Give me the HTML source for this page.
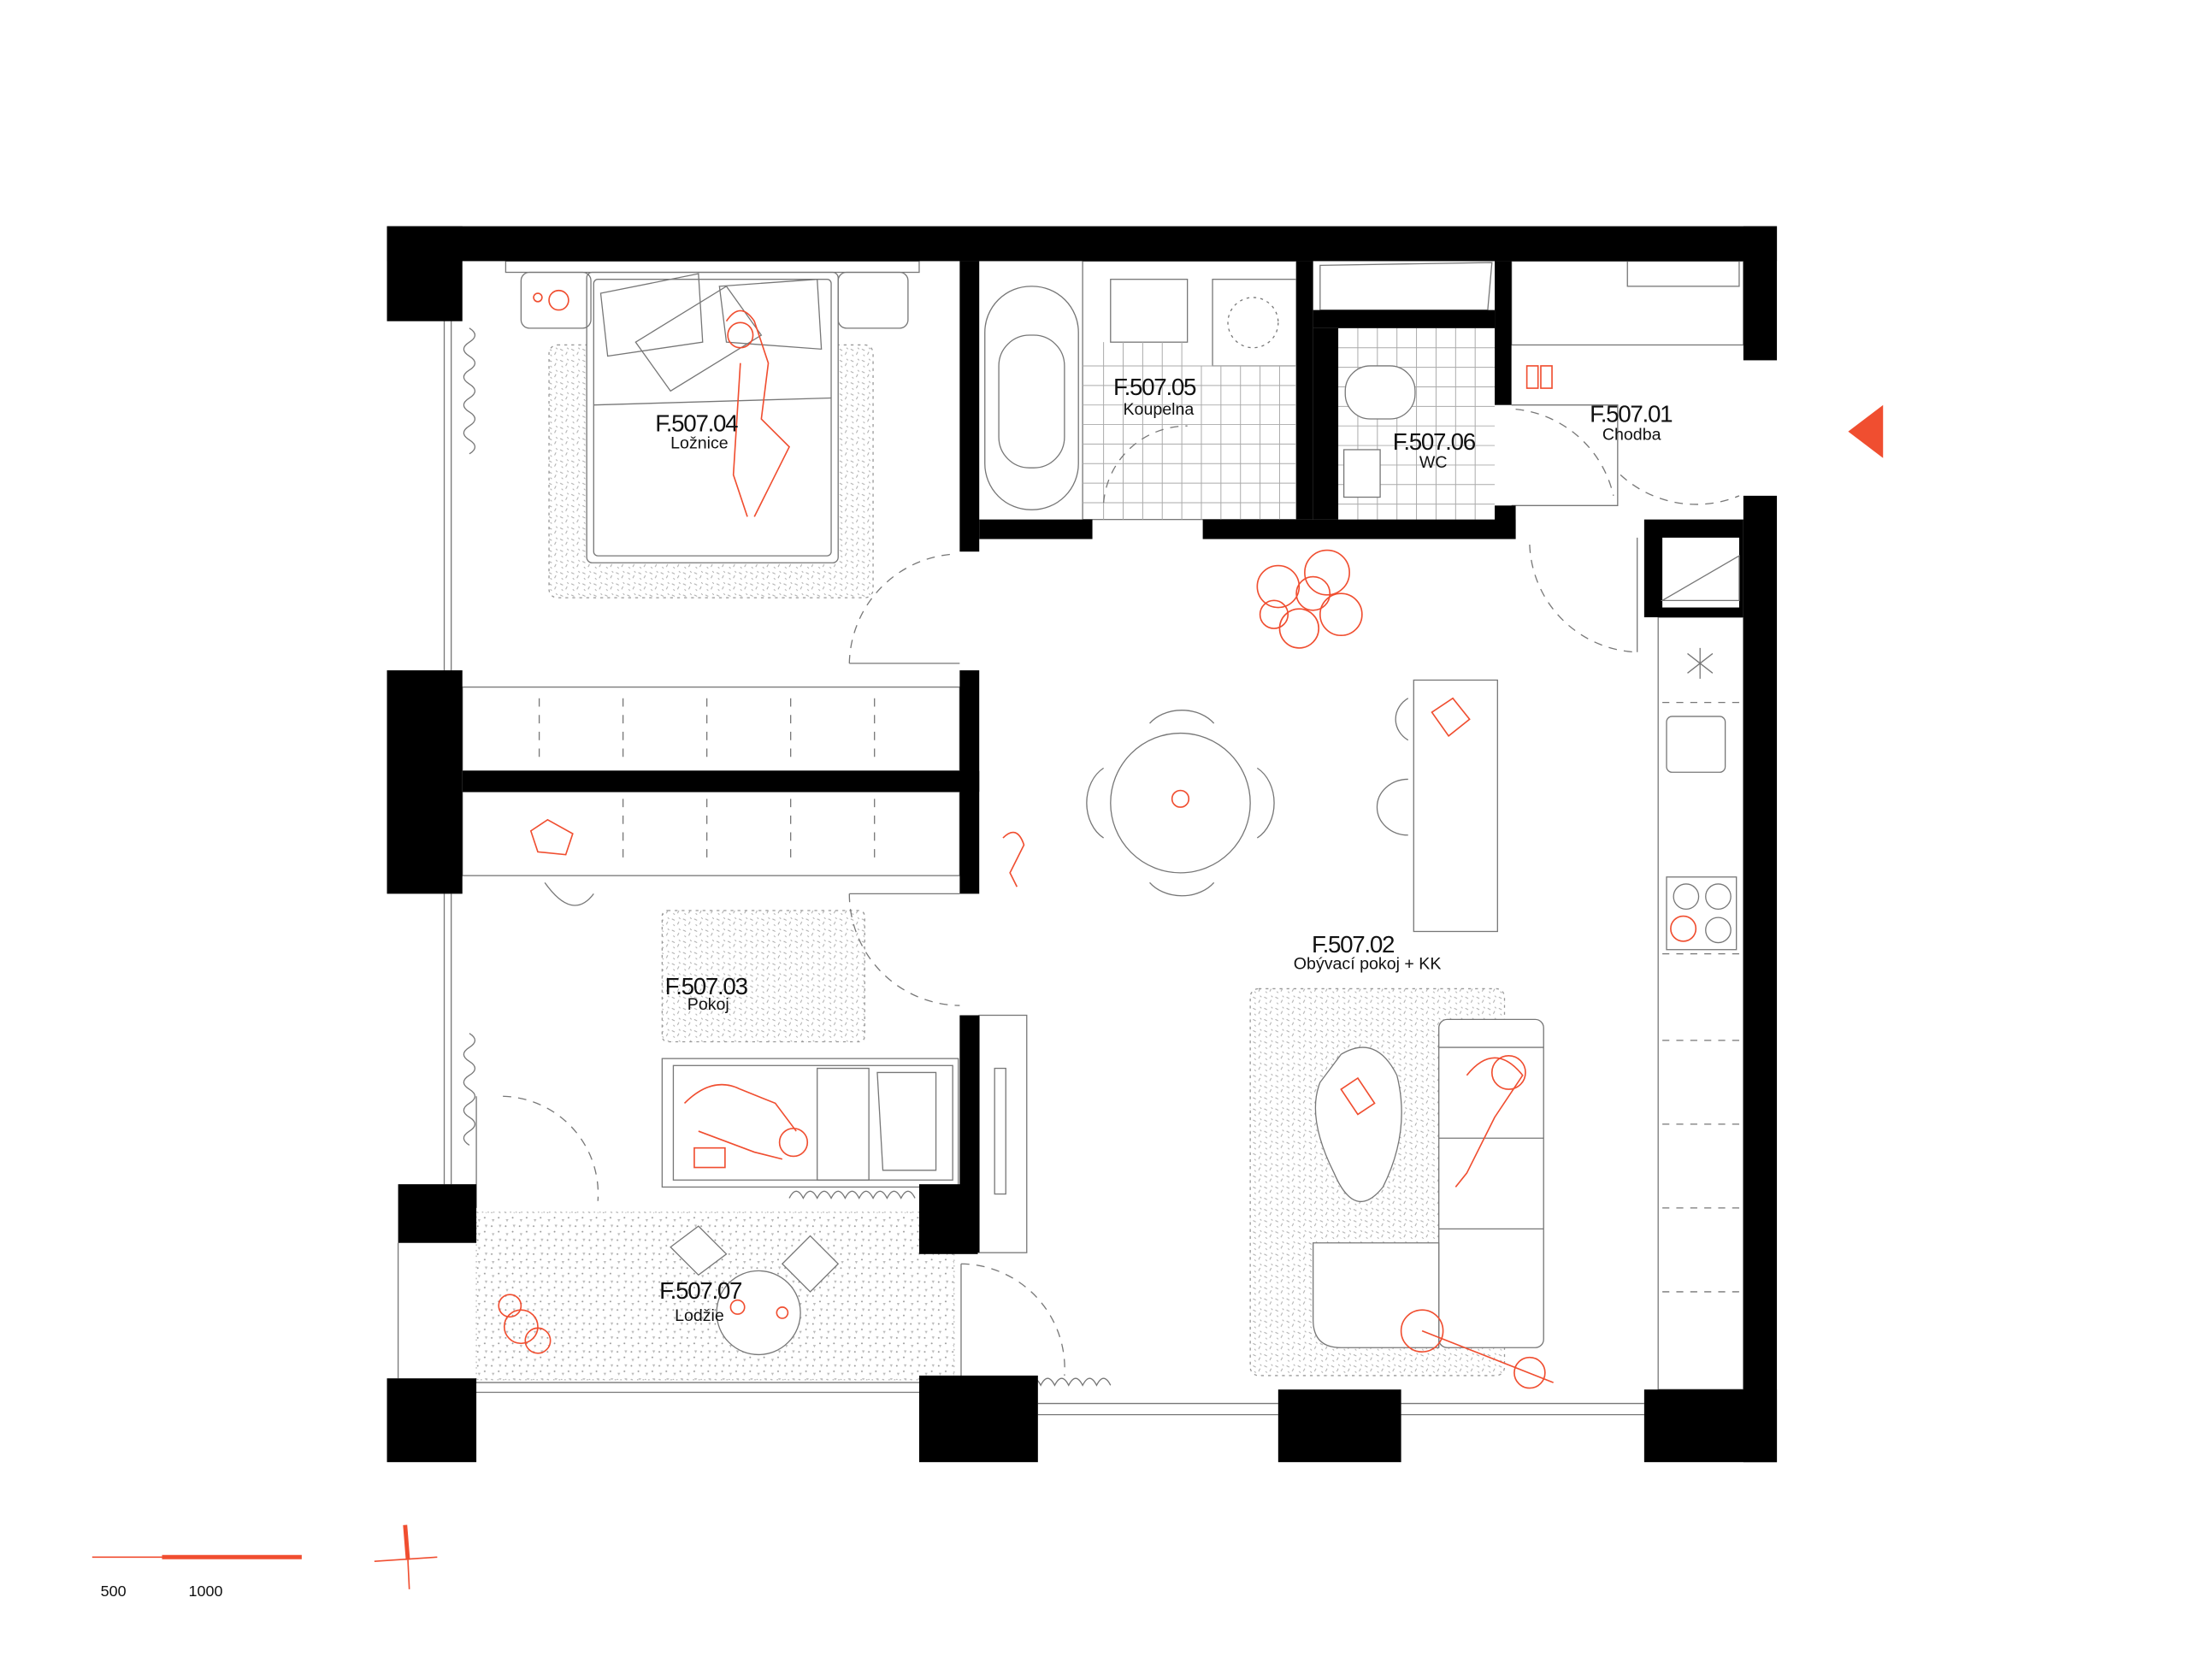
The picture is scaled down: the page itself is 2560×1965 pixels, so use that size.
<!DOCTYPE html>
<html><head><meta charset="utf-8"><style>
html,body{margin:0;padding:0;background:#fff;}
svg{display:block;}
text{font-family:"Liberation Sans",sans-serif;fill:#111;}
</style></head><body>
<svg width="2560" height="1965" viewBox="0 0 1567 1203" preserveAspectRatio="none" xmlns="http://www.w3.org/2000/svg">
<defs>
<pattern id="st" width="8" height="8" patternUnits="userSpaceOnUse"><rect width="8" height="8" fill="#fff"/><path d="M1 2l2 1M5 6l1-2M6 1l1 1M2 6l1 1" stroke="#aaa" stroke-width="0.6"/></pattern>
<pattern id="tr" width="10" height="10" patternUnits="userSpaceOnUse"><rect width="10" height="10" fill="#fff"/><path d="M2 3l2 0-1 2zM7 7l2 0-1 2z" fill="#bbb"/><circle cx="7" cy="2" r="0.6" fill="#999"/><circle cx="2" cy="8" r="0.6" fill="#999"/></pattern>
</defs>
<rect width="1567" height="1203" fill="#fff"/>
<g fill="none" stroke="#777" stroke-width="0.8">
<rect x="393" y="247" width="232" height="181" rx="6" fill="url(#st)" stroke="#999" stroke-dasharray="2 3"/>
<rect x="420" y="195" width="180" height="208" rx="4" fill="#fff"/>
<rect x="425" y="200" width="170" height="198" rx="3"/>
<rect x="362" y="187" width="296" height="8"/>
<rect x="373" y="195" width="50" height="40" rx="6"/>
<rect x="600" y="195" width="50" height="40" rx="6"/>
<path d="M430 210 L500 196 L503 245 L435 255 Z M455 245 L520 205 L545 240 L480 280 Z M515 205 L585 200 L588 250 L520 245 Z"/>
<line x1="425" y1="290" x2="595" y2="285"/>
<rect x="331" y="492" width="356" height="60"/>
<rect x="331" y="567" width="356" height="60"/>
<g stroke-dasharray="6 6"><line x1="386" y1="500" x2="386" y2="545"/><line x1="446" y1="500" x2="446" y2="545"/><line x1="506" y1="500" x2="506" y2="545"/><line x1="566" y1="500" x2="566" y2="545"/><line x1="626" y1="500" x2="626" y2="545"/>
<line x1="446" y1="572" x2="446" y2="620"/><line x1="506" y1="572" x2="506" y2="620"/><line x1="566" y1="572" x2="566" y2="620"/><line x1="626" y1="572" x2="626" y2="620"/></g>
<rect x="705" y="205" width="67" height="160" rx="33"/>
<rect x="715" y="240" width="47" height="95" rx="22"/>
<rect x="775" y="187" width="153" height="185"/>
<rect x="795" y="200" width="55" height="45"/>
<rect x="868" y="200" width="60" height="62"/>
<circle cx="897" cy="231" r="18" stroke-dasharray="2 3"/>
<g stroke="#aaa" stroke-width="0.6">
<path d="M775 262H928M775 276H928M775 290H928M775 304H928M775 318H928M775 332H928M775 346H928M775 360H928"/>
<path d="M790 245V372M804 245V372M818 245V372M832 245V372M846 245V372M860 262V372M874 262V372M888 262V372M902 262V372M916 262V372"/>
<path d="M958 249H1070M958 263H1070M958 277H1070M958 291H1070M958 305H1070M958 319H1070M958 333H1070M958 347H1070M958 361H1070"/>
<path d="M972 235V372M986 235V372M1000 235V372M1014 235V372M1028 235V372M1042 235V372M1056 235V372"/>
</g>
<rect x="963" y="262" width="50" height="38" rx="18" fill="#fff"/>
<rect x="962" y="322" width="26" height="34" fill="#fff"/>
<path d="M945 190L1068 188L1065 222L945 222Z"/>
<rect x="1082" y="187" width="166" height="60"/>
<rect x="1165" y="187" width="80" height="18"/>
<path d="M1082 290H1158V362H1082"/>
<rect x="1187" y="442" width="61" height="553"/>
<rect x="1193" y="513" width="42" height="40" rx="4"/>
<rect x="1193" y="628" width="50" height="52"/>
<circle cx="1207" cy="642" r="9"/><circle cx="1230" cy="642" r="9"/><circle cx="1230" cy="666" r="9"/>
<g stroke-dasharray="5 5"><line x1="1190" y1="503" x2="1248" y2="503"/><line x1="1190" y1="745" x2="1248" y2="745"/><line x1="1190" y1="805" x2="1248" y2="805"/><line x1="1190" y1="865" x2="1248" y2="865"/><line x1="1190" y1="925" x2="1248" y2="925"/><line x1="1190" y1="683" x2="1248" y2="683"/></g>
<path d="M1208 468L1226 482M1226 468L1208 482M1217 464V486"/>
<rect x="1012" y="487" width="60" height="180"/>
<path d="M1008 500a20 18 0 0 0 0 30M1008 558a20 18 0 0 0 0 40"/>
<circle cx="845" cy="575" r="50"/>
<path d="M823 518a28 22 0 0 1 46 0M823 632a28 22 0 0 0 46 0M790 550a22 28 0 0 0 0 50M900 550a22 28 0 0 1 0 50"/>
<rect x="895" y="708" width="182" height="277" rx="6" fill="url(#st)" stroke="#999" stroke-dasharray="2 3"/>
<rect x="1030" y="730" width="75" height="235" rx="6" fill="#fff"/>
<path d="M1030 750H1105M1030 815H1105M1030 880H1105"/>
<path d="M940 890H1030V965H960Q940 965 940 945Z" fill="#fff"/>
<path d="M960 755Q985 740 1000 770Q1010 810 990 850Q970 875 955 840Q935 800 945 775Z" fill="#fff"/>
<rect x="474" y="652" width="145" height="94" rx="4" fill="url(#st)" stroke="#999" stroke-dasharray="2 3"/>
<rect x="474" y="758" width="212" height="92"/>
<rect x="482" y="763" width="200" height="82"/>
<path d="M585 765H622V845H585ZM628 768H670V838H632Z"/>
<rect x="701" y="727" width="34" height="170"/>
<rect x="712" y="765" width="8" height="90"/>
<path d="M390 632Q410 660 425 640"/>
<rect x="341" y="868" width="342" height="120" fill="url(#tr)" stroke="#bbb" stroke-dasharray="1 3"/>
<circle cx="543" cy="940" r="30" fill="#fff"/>
<path d="M480 893l20-15 20 20-20 15zM560 905l20-20 20 20-20 20z" fill="#fff"/>
<path d="M331 990H660M331 997H660M743 1005H915M743 1013H915M1003 1005H1177M1003 1013H1177"/>
<path d="M318 230V480M323 230V480M318 640V848M323 640V848M285 890V987"/>
<g stroke-dasharray="6 5">
<path d="M608 475A80 80 0 0 1 680 397"/>
<path d="M608 640A80 80 0 0 0 687 720"/>
<path d="M360 785A70 70 0 0 1 428 860"/>
<path d="M688 905A75 75 0 0 1 762 985"/>
<path d="M790 360A60 60 0 0 1 850 305"/>
<path d="M1095 390A80 80 0 0 0 1172 467"/>
<path d="M1085 293A80 80 0 0 1 1155 355"/>
<path d="M1160 340A80 80 0 0 0 1245 355"/>
</g>
<line x1="608" y1="475" x2="687" y2="475"/><line x1="608" y1="640" x2="687" y2="640"/>
<line x1="341" y1="785" x2="341" y2="865"/><line x1="688" y1="905" x2="688" y2="990"/>
<line x1="1172" y1="385" x2="1172" y2="467"/>
<path d="M336 235q8 5 0 10q-8 5 0 10q8 5 0 10q-8 5 0 10q8 5 0 10q-8 5 0 10q8 5 0 10q-8 5 0 10q8 5 0 10"/>
<path d="M336 740q8 5 0 10q-8 5 0 10q8 5 0 10q-8 5 0 10q8 5 0 10q-8 5 0 10q8 5 0 10q-8 5 0 10"/>
<path d="M705 992q5-10 10 0q5-10 10 0q5-10 10 0q5-10 10 0q5-10 10 0q5-10 10 0q5-10 10 0q5-10 10 0q5-10 10 0"/>
<path d="M565 858q5-10 10 0q5-10 10 0q5-10 10 0q5-10 10 0q5-10 10 0q5-10 10 0q5-10 10 0q5-10 10 0q5-10 10 0"/>
</g>
<g fill="#000">
<rect x="277" y="162" width="995" height="25"/>
<rect x="277" y="162" width="54" height="68"/>
<rect x="277" y="480" width="54" height="160"/>
<rect x="285" y="848" width="56" height="42"/>
<rect x="277" y="987" width="64" height="60"/>
<rect x="1248" y="162" width="24" height="96"/>
<rect x="1248" y="355" width="24" height="692"/>
<rect x="658" y="985" width="85" height="62"/>
<rect x="915" y="995" width="88" height="52"/>
<rect x="1177" y="995" width="95" height="52"/>
<rect x="658" y="848" width="42" height="50"/>
<rect x="687" y="187" width="14" height="208"/>
<rect x="701" y="372" width="81" height="14"/>
<rect x="861" y="372" width="224" height="14"/>
<rect x="928" y="187" width="12" height="185"/>
<rect x="940" y="222" width="130" height="13"/>
<rect x="940" y="235" width="18" height="137"/>
<rect x="1070" y="187" width="12" height="103"/>
<rect x="1070" y="362" width="15" height="24"/>
<rect x="331" y="552" width="370" height="15"/>
<rect x="687" y="480" width="14" height="160"/>
<rect x="687" y="727" width="14" height="170"/>
<rect x="1177" y="372" width="71" height="70"/>
</g>
<rect x="1190" y="385" width="55" height="50" fill="#fff"/>
<path d="M1190 430L1245 398V430Z" fill="none" stroke="#777" stroke-width="0.8"/>
<g fill="none" stroke="#f04e30" stroke-width="1">
<circle cx="915" cy="420" r="15"/><circle cx="950" cy="410" r="16"/><circle cx="960" cy="440" r="15"/><circle cx="930" cy="450" r="14"/><circle cx="912" cy="440" r="10"/><circle cx="940" cy="425" r="12"/>
<circle cx="373" cy="950" r="12"/><circle cx="365" cy="935" r="8"/><circle cx="385" cy="960" r="9"/>
<path d="M520 230q10-15 20 0l10 30 -5 40 20 20 -15 30 -10 20M530 260l-5 80 10 30"/>
<circle cx="530" cy="240" r="9"/>
<path d="M490 790q20-20 40-10l25 10 15 20M500 810l40 15 20 5"/>
<circle cx="568" cy="818" r="10"/>
<rect x="497" y="822" width="22" height="14"/>
<path d="M1050 770q20-25 40 0l-20 30 -20 40 -8 10M1070 800l-20 40"/>
<circle cx="1080" cy="768" r="12"/>
<circle cx="1018" cy="953" r="15"/><circle cx="1095" cy="983" r="11"/><line x1="1018" y1="953" x2="1112" y2="990"/>
<path d="M380 595l12-8 18 10-5 15-20-2z"/><path d="M1025 510l15-10 12 15-15 12z"/>
<path d="M718 600q10-10 15 5l-10 20 5 10"/>
<circle cx="845" cy="572" r="6"/><circle cx="1205" cy="665" r="9"/>
<circle cx="400" cy="215" r="7"/><circle cx="385" cy="213" r="3"/>
<path d="M1093 262h8v16h-8zM1103 262h8v16h-8z"/>
<circle cx="528" cy="936" r="5"/><circle cx="560" cy="940" r="4"/>
<path d="M960 780l12-8 12 18-12 8z"/>
</g>
<polygon points="1323,309 1348,290 1348,328" fill="#f04e30"/>
<g font-size="17" letter-spacing="-0.8">
<text x="469" y="309">F.507.04</text><text x="797" y="283">F.507.05</text><text x="997" y="322">F.507.06</text><text x="1138" y="302">F.507.01</text>
<text x="939" y="682">F.507.02</text><text x="476" y="712">F.507.03</text><text x="472" y="930">F.507.07</text>
</g>
<g font-size="12">
<text x="480" y="321">Ložnice</text><text x="804" y="297">Koupelna</text><text x="1016" y="335">WC</text><text x="1147" y="315">Chodba</text>
<text x="926" y="694">Obývací pokoj + KK</text><text x="492" y="723">Pokoj</text><text x="483" y="946">Lodžie</text>
</g>
<line x1="66" y1="1115" x2="116" y2="1115" stroke="#f04e30" stroke-width="1"/>
<line x1="116" y1="1115" x2="216" y2="1115" stroke="#f04e30" stroke-width="3"/>
<text x="72" y="1143" font-size="11">500</text><text x="135" y="1143" font-size="11">1000</text>
<line x1="290" y1="1092" x2="292" y2="1117" stroke="#f04e30" stroke-width="3"/>
<line x1="292" y1="1117" x2="293" y2="1138" stroke="#f04e30" stroke-width="1"/>
<line x1="268" y1="1118" x2="313" y2="1115" stroke="#f04e30" stroke-width="1"/>
</svg>
</body></html>
